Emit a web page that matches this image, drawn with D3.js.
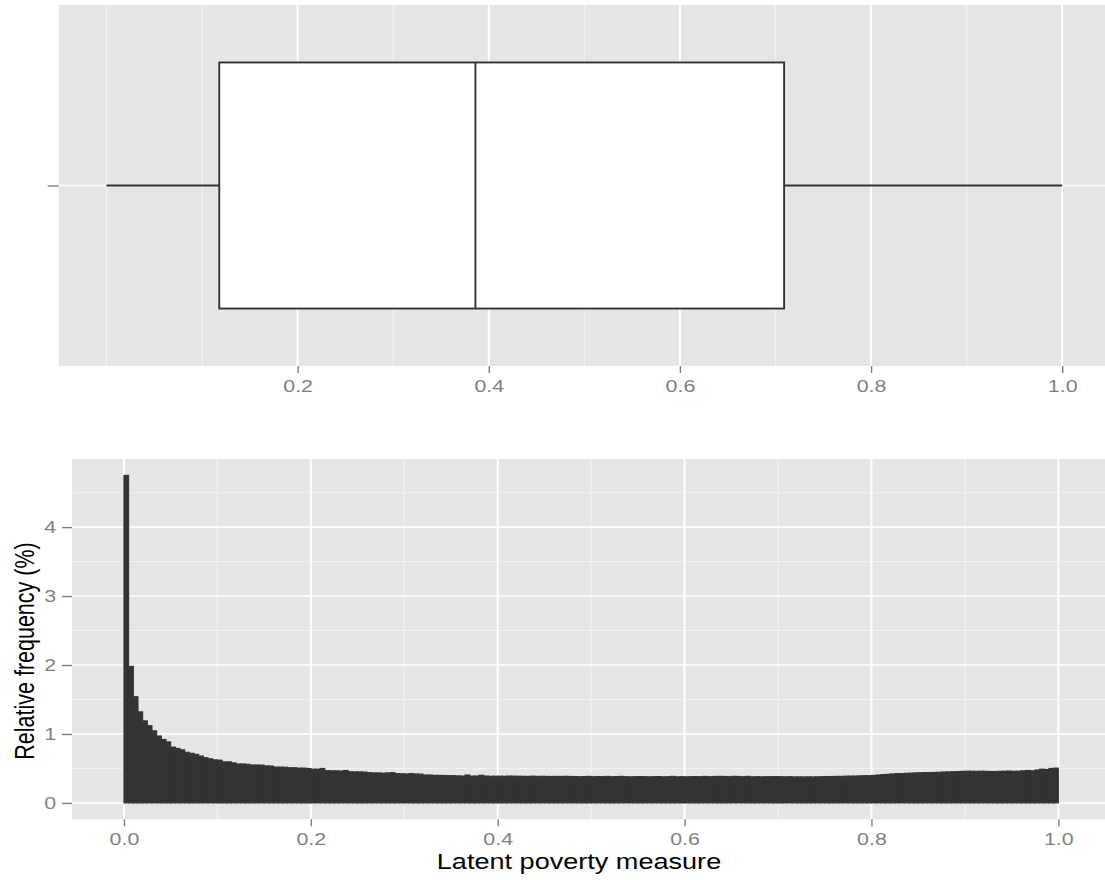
<!DOCTYPE html>
<html>
<head>
<meta charset="utf-8">
<script src="https://cdn.jsdelivr.net/npm/d3@7"></script>
<style>
  body { margin: 0; background: #fff; }
  text { font-family: "Liberation Sans", Arial, Helvetica, sans-serif; }
</style>
</head>
<body>
<svg id="chart" width="1105" height="880"></svg>
<script>
// Five-number summary of the latent poverty measure (box plot)
const boxStatNames = ["min", "q1", "median", "q3", "max"];
const boxStatValues = [0.0, 0.118, 0.386, 0.709, 1.0];

// Histogram of the latent poverty measure: relative frequency (%) per bin
const binStart = -0.005;
const binWidth = 0.005;
const relFreq = [
  0,
  4.75, 1.98, 1.54, 1.32, 1.19, 1.12, 1.045, 0.97, 0.92, 0.885,
  0.81, 0.79, 0.77, 0.735, 0.72, 0.705, 0.68, 0.655, 0.64, 0.625,
  0.62, 0.595, 0.595, 0.58, 0.565, 0.565, 0.56, 0.55, 0.55, 0.548,
  0.537, 0.535, 0.52, 0.52, 0.518, 0.51, 0.51, 0.505, 0.505, 0.50,
  0.49, 0.49, 0.50, 0.468, 0.465, 0.465, 0.462, 0.47, 0.452, 0.45,
  0.45, 0.448, 0.438, 0.435, 0.435, 0.432, 0.435, 0.44, 0.425, 0.422,
  0.42, 0.425, 0.42, 0.418, 0.405, 0.405, 0.40, 0.40, 0.398, 0.395,
  0.395, 0.392, 0.39, 0.405, 0.39, 0.39, 0.402, 0.39, 0.387, 0.388,
  0.388, 0.387, 0.39, 0.388, 0.387, 0.386, 0.385, 0.388, 0.385, 0.386,
  0.385, 0.384, 0.385, 0.384, 0.386, 0.384, 0.383, 0.38, 0.382, 0.385,
  0.38, 0.383, 0.38, 0.385, 0.38, 0.382, 0.385, 0.38, 0.378, 0.38,
  0.382, 0.38, 0.378, 0.38, 0.382, 0.378, 0.38, 0.385, 0.378, 0.38,
  0.378, 0.38, 0.382, 0.38, 0.385, 0.38, 0.384, 0.385, 0.384, 0.38,
  0.385, 0.384, 0.38, 0.385, 0.378, 0.38, 0.378, 0.38, 0.38, 0.382,
  0.38, 0.378, 0.38, 0.377, 0.378, 0.377, 0.378, 0.377, 0.378, 0.38,
  0.382, 0.383, 0.385, 0.385, 0.388, 0.39, 0.39, 0.392, 0.395, 0.395,
  0.40, 0.405, 0.41, 0.415, 0.42, 0.425, 0.425, 0.43, 0.432, 0.435,
  0.437, 0.44, 0.44, 0.442, 0.445, 0.448, 0.45, 0.452, 0.455, 0.458,
  0.46, 0.46, 0.458, 0.46, 0.458, 0.456, 0.455, 0.458, 0.46, 0.462,
  0.458, 0.46, 0.465, 0.47, 0.465, 0.478, 0.49, 0.485, 0.50, 0.505,
  0
];

// Axis breaks
const topMajorX = [0.2, 0.4, 0.6, 0.8, 1.0];
const topMinorX = [0.0, 0.1, 0.3, 0.5, 0.7, 0.9];
const bottomMajorX = [0.0, 0.2, 0.4, 0.6, 0.8, 1.0];
const bottomMinorX = [0.1, 0.3, 0.5, 0.7, 0.9];
const bottomMajorY = [0, 1, 2, 3, 4];
const bottomMinorY = [0.5, 1.5, 2.5, 3.5, 4.5];
const xTitle = "Latent poverty measure";
const yTitle = "Relative frequency (%)";

const svg = d3.select("#chart");
const BG = "#E5E5E5", MINOR = "#F2F2F2", MAJOR = "#FFFFFF";
const INK = "#333333", AXIS = "#7F7F7F";
const SX = 1.26;               // horizontal stretch of all text
const TICK_FONT = 17, TITLE_FONT = 21.5;

svg.append("rect").attr("width", 1105).attr("height", 880).attr("fill", "#fff");

/* ---------------- upper panel: box plot ---------------- */
const xT = d3.scaleLinear().domain([-0.05, 1.05]).range([58.7, 1110.0]);
const yT = d3.scaleLinear().domain([0.4, 1.6]).range([366, 5]);
const boxHalf = 0.409;
const stat = Object.fromEntries(boxStatNames.map((n, i) => [n, boxStatValues[i]]));

const boxPanel = svg.append("g");
boxPanel.append("rect")
  .attr("x", xT(-0.05)).attr("y", yT(1.6))
  .attr("width", xT(1.05) - xT(-0.05)).attr("height", yT(0.4) - yT(1.6))
  .attr("fill", BG);
boxPanel.selectAll("line.minor").data(topMinorX).join("line")
  .attr("x1", d => xT(d)).attr("x2", d => xT(d))
  .attr("y1", yT(1.6)).attr("y2", yT(0.4))
  .attr("stroke", MINOR).attr("stroke-width", 1.2);
boxPanel.selectAll("line.major").data(topMajorX).join("line")
  .attr("x1", d => xT(d)).attr("x2", d => xT(d))
  .attr("y1", yT(1.6)).attr("y2", yT(0.4))
  .attr("stroke", MAJOR).attr("stroke-width", 2);
boxPanel.append("line")
  .attr("x1", xT(-0.05)).attr("x2", xT(1.05))
  .attr("y1", yT(1)).attr("y2", yT(1))
  .attr("stroke", MAJOR).attr("stroke-width", 1.6);

// whiskers
boxPanel.append("line")
  .attr("x1", xT(stat.min)).attr("x2", xT(stat.q1))
  .attr("y1", yT(1)).attr("y2", yT(1))
  .attr("stroke", INK).attr("stroke-width", 1.8);
boxPanel.append("line")
  .attr("x1", xT(stat.q3)).attr("x2", xT(stat.max))
  .attr("y1", yT(1)).attr("y2", yT(1))
  .attr("stroke", INK).attr("stroke-width", 1.8);
// box and median
boxPanel.append("rect")
  .attr("x", xT(stat.q1)).attr("y", yT(1 + boxHalf))
  .attr("width", xT(stat.q3) - xT(stat.q1))
  .attr("height", yT(1 - boxHalf) - yT(1 + boxHalf))
  .attr("fill", "#fff").attr("stroke", INK).attr("stroke-width", 1.9);
boxPanel.append("line")
  .attr("x1", xT(stat.median)).attr("x2", xT(stat.median))
  .attr("y1", yT(1 + boxHalf)).attr("y2", yT(1 - boxHalf))
  .attr("stroke", INK).attr("stroke-width", 1.9);

function styleAxis(g) {
  g.select(".domain").remove();
  g.selectAll(".tick line").attr("stroke", AXIS).attr("stroke-width", 1.4);
  g.selectAll(".tick text").attr("fill", AXIS).attr("font-size", TICK_FONT)
    .attr("font-family", "'Liberation Sans', Arial, sans-serif");
}

const boxXAxis = svg.append("g").attr("transform", `translate(0,${yT(0.4)})`)
  .call(d3.axisBottom(xT).tickValues(topMajorX).tickFormat(d3.format(".1f"))
    .tickSize(7).tickPadding(7));
styleAxis(boxXAxis);
boxXAxis.selectAll(".tick text").attr("transform", `scale(${SX},1)`);

const boxYAxis = svg.append("g").attr("transform", `translate(${xT(-0.05)},0)`)
  .call(d3.axisLeft(yT).tickValues([1]).tickFormat(() => "").tickSize(11));
styleAxis(boxYAxis);

/* ---------------- lower panel: histogram ---------------- */
const xB = d3.scaleLinear().domain([-0.0555, 1.0555]).range([72.1, 1110.2]);
const yB = d3.scaleLinear().domain([-0.2375, 4.9875]).range([819.3, 459]);

const histPanel = svg.append("g");
histPanel.append("rect")
  .attr("x", xB(-0.0555)).attr("y", yB(4.9875))
  .attr("width", xB(1.0555) - xB(-0.0555)).attr("height", yB(-0.2375) - yB(4.9875))
  .attr("fill", BG);
histPanel.selectAll("line.minx").data(bottomMinorX).join("line")
  .attr("x1", d => xB(d)).attr("x2", d => xB(d))
  .attr("y1", yB(4.9875)).attr("y2", yB(-0.2375))
  .attr("stroke", MINOR).attr("stroke-width", 1.2);
histPanel.selectAll("line.miny").data(bottomMinorY).join("line")
  .attr("x1", xB(-0.0555)).attr("x2", xB(1.0555))
  .attr("y1", d => yB(d)).attr("y2", d => yB(d))
  .attr("stroke", MINOR).attr("stroke-width", 1);
histPanel.selectAll("line.majx").data(bottomMajorX).join("line")
  .attr("x1", d => xB(d)).attr("x2", d => xB(d))
  .attr("y1", yB(4.9875)).attr("y2", yB(-0.2375))
  .attr("stroke", MAJOR).attr("stroke-width", 2);
histPanel.selectAll("line.majy").data(bottomMajorY).join("line")
  .attr("x1", xB(-0.0555)).attr("x2", xB(1.0555))
  .attr("y1", d => yB(d)).attr("y2", d => yB(d))
  .attr("stroke", MAJOR).attr("stroke-width", 1.6);

histPanel.selectAll("rect.bar").data(relFreq).join("rect")
  .attr("class", "bar")
  .attr("x", (d, i) => xB(binStart + i * binWidth))
  .attr("width", (d, i) => xB(binStart + (i + 1) * binWidth) - xB(binStart + i * binWidth))
  .attr("y", d => yB(d))
  .attr("height", d => yB(0) - yB(d))
  .attr("fill", INK).attr("stroke", INK).attr("stroke-width", 1.1);

const histXAxis = svg.append("g").attr("transform", `translate(0,${yB(-0.2375)})`)
  .call(d3.axisBottom(xB).tickValues(bottomMajorX).tickFormat(d3.format(".1f"))
    .tickSize(7).tickPadding(6.6));
styleAxis(histXAxis);
histXAxis.selectAll(".tick text").attr("transform", `scale(${SX},1)`);

const histYAxis = svg.append("g").attr("transform", `translate(${xB(-0.0555)},0)`)
  .call(d3.axisLeft(yB).tickValues(bottomMajorY).tickFormat(d3.format("d")).tickSize(10));
styleAxis(histYAxis);
histYAxis.selectAll(".tick text").attr("x", 0)
  .attr("transform", `translate(-16,0) scale(${SX},1)`);

// axis titles
svg.append("text")
  .attr("transform", `translate(579,868.5) scale(${SX},1)`)
  .attr("text-anchor", "middle").attr("font-size", TITLE_FONT).attr("fill", "#000")
  .text(xTitle);
svg.append("text")
  .attr("transform", `translate(34,651) scale(${SX},1) rotate(-90)`)
  .attr("text-anchor", "middle").attr("font-size", TITLE_FONT).attr("fill", "#000")
  .text(yTitle);
</script>
</body>
</html>
